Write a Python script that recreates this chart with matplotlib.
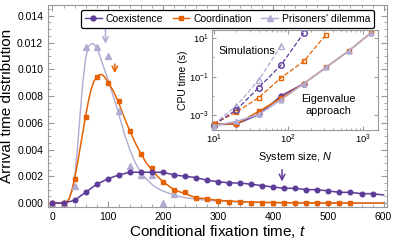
import numpy as np
import matplotlib.pyplot as plt
from matplotlib.ticker import MultipleLocator, LogLocator, NullFormatter, FixedLocator

plt.rcParams['font.family'] = ['Liberation Sans', 'DejaVu Sans']
plt.rcParams['mathtext.fontset'] = 'custom'
plt.rcParams['mathtext.rm'] = 'Liberation Sans'
plt.rcParams['mathtext.it'] = 'Liberation Sans:italic'

PURPLE = "#5e3c99"
ORANGE = "#e66101"
LAVENDER = "#b2abd2"
FRAME = "#999999"

# simulated arrival-time distributions (markers)
t_coex = np.arange(0, 600, 20)
coex_sim = [0, 0, 0.0002, 0.0008, 0.0014, 0.0018, 0.0021, 0.0023, 0.0023, 0.0023,
            0.0023, 0.0021, 0.0020, 0.0019, 0.0017, 0.0016, 0.0015, 0.0015, 0.0014, 0.0013,
            0.0012, 0.0011, 0.0011, 0.0010, 0.0010, 0.0009, 0.0008, 0.0008, 0.0007, 0.0007]
t_coord = np.arange(0, 560, 20)
coord_sim = [0, 0, 0.0018, 0.0064, 0.0094, 0.0090, 0.0076, 0.0054, 0.0037, 0.0026,
             0.0016, 0.0010, 0.0008, 0.0004, 0.0003, 0.00015, 0.0001, 0.00005, 0, 0,
             0, 0, 0, 0, 0, 0, 0, 0]
t_pd = np.arange(0, 240, 20)
pd_sim = [0, 0, 0.0013, 0.0117, 0.0117, 0.0110, 0.0069, 0.0028, 0.0021, 0.0021, 0.0000, 0.0007]

# theory curves
t_th = [0, 10, 20, 25, 30, 35, 40, 45, 50, 55, 60, 65, 70, 75, 80, 85, 90, 95, 100, 110,
        120, 130, 140, 150, 160, 170, 180, 190, 200, 220, 240, 260, 280, 300, 350, 400,
        450, 500, 600]
pd_th = [0, 0, 0, 0.00005, 0.0003, 0.0009, 0.0018, 0.0040, 0.0066, 0.0090, 0.0108, 0.0117,
         0.0119, 0.0119, 0.0116, 0.0111, 0.0105, 0.0099, 0.0093, 0.0080, 0.0067, 0.0052,
         0.0040, 0.0030, 0.0023, 0.0018, 0.0014, 0.0011, 0.0009, 0.0006, 0.0004, 0.0003,
         0.0002, 0.00015, 0.00007, 0.00003, 0.00001, 0, 0]
coord_th = [0, 0, 0, 0.00005, 0.0003, 0.0009, 0.0018, 0.0029, 0.0041, 0.0053, 0.0065,
            0.0076, 0.0085, 0.0091, 0.0094, 0.0096, 0.0096, 0.0094, 0.0091, 0.0084, 0.0075,
            0.0064, 0.0054, 0.0045, 0.0037, 0.0030, 0.0025, 0.0020, 0.0016, 0.0010, 0.0007,
            0.0004, 0.0003, 0.0002, 0.00008, 0.00003, 0.00001, 0, 0]
t_coex_th = list(t_coex) + [600]
coex_th = coex_sim + [0.0006]

# inset: CPU time vs system size (log10 of seconds)
N = [10, 20, 40, 80, 160, 320, 640, 1280]
eig_coex = [-3.5, -3.47, -2.97, -2.0, -1.37]
eig_coord = [-3.46, -3.47, -2.81, -2.12, -1.37, -0.52, 0.33, 1.27]
eig_pd = [-3.56, -3.33, -2.97, -2.2, -1.37, -0.52, 0.33, 1.27]
sim_coex = [-3.5, -2.73, -1.57, -0.39, 1.27]
sim_coord = [-3.46, -2.85, -2.09, -1.05, -0.21, 1.19]
sim_pd = [-3.46, -2.52, -1.17, 0.61]


def style_frame(ax):
    for s in ax.spines.values():
        s.set_color(FRAME)
        s.set_linewidth(0.8)
    ax.tick_params(which='both', direction='in', top=True, right=True, color=FRAME)


fig = plt.figure(figsize=(3.94, 2.43), dpi=100)
ax = fig.add_axes([0.122, 0.148, 0.860, 0.831])

ax.plot(t_th, pd_th, color=LAVENDER, lw=1.0)
ax.plot(t_th, coord_th, color=ORANGE, lw=1.1)
ax.plot(t_coex_th, coex_th, color=PURPLE, lw=1.1)
ax.plot(t_pd, pd_sim, ls='none', marker='^', ms=3.8, color=LAVENDER)
ax.plot(t_coord, coord_sim, ls='none', marker='s', ms=3.2, color=ORANGE)
ax.plot(t_coex, coex_sim, ls='none', marker='o', ms=3.3, color=PURPLE)

# legend proxies
h1, = ax.plot([], [], color=PURPLE, marker='o', ms=3.5, lw=1)
h2, = ax.plot([], [], color=ORANGE, marker='s', ms=3.5, lw=1)
h3, = ax.plot([], [], color=LAVENDER, marker='^', ms=4, lw=1)
leg = ax.legend([h1, h2, h3], ["Coexistence", "Coordination", "Prisoners' dilemma"],
                ncol=3, loc='upper center', bbox_to_anchor=(0.53, 1.0), fontsize=7.5,
                frameon=True, fancybox=True, handlelength=1.6, handletextpad=0.4,
                columnspacing=0.9, borderpad=0.35)
leg.get_frame().set_edgecolor('black')
leg.get_frame().set_linewidth(0.9)
leg.get_frame().set_alpha(1)

# arrows
ax.annotate("", xy=(96, 0.0117), xytext=(96, 0.0133),
            arrowprops=dict(arrowstyle='->', color=LAVENDER, lw=1.1))
ax.annotate("", xy=(113, 0.0095), xytext=(113, 0.0106),
            arrowprops=dict(arrowstyle='->', color=ORANGE, lw=1.1))
ax.annotate("", xy=(416, 0.0014), xytext=(416, 0.0027),
            arrowprops=dict(arrowstyle='->', color=PURPLE, lw=1.1))

ax.set_xlim(-8, 606)
ax.set_ylim(-0.0003, 0.0148)
ax.xaxis.set_major_locator(MultipleLocator(100))
ax.xaxis.set_minor_locator(MultipleLocator(20))
ax.yaxis.set_major_locator(MultipleLocator(0.002))
ax.yaxis.set_minor_locator(MultipleLocator(0.0005))
ax.yaxis.set_major_formatter(plt.FuncFormatter(lambda v, p: f"{v:.3f}"))
style_frame(ax)
ax.tick_params(which='major', length=4, labelsize=7.5, labelcolor='black')
ax.tick_params(which='minor', length=2)
ax.set_xlabel("Conditional fixation time, $t$", fontsize=11, labelpad=1)
ax.set_ylabel("Arrival time distribution", fontsize=11, labelpad=2)

# inset
ins = fig.add_axes([0.538, 0.465, 0.421, 0.412])
ins.set_xscale('log')
ins.plot(N[:len(sim_pd)], 10 ** np.array(sim_pd), ls='--', color=LAVENDER, lw=0.9,
         marker='^', mfc='none', ms=4, clip_on=False)
ins.plot(N[:len(sim_coord)], 10 ** np.array(sim_coord), ls='--', color=ORANGE, lw=0.9,
         marker='s', mfc='none', ms=3.5, clip_on=False)
ins.plot(N[:len(sim_coex)], 10 ** np.array(sim_coex), ls='--', color=PURPLE, lw=0.9,
         marker='o', mfc='none', ms=4, clip_on=False)
ins.plot(N[:len(eig_coex)], 10 ** np.array(eig_coex), color=PURPLE, lw=1.1, marker='o', ms=3.5)
ins.plot(N, 10 ** np.array(eig_coord), color=ORANGE, lw=1.1, marker='s', ms=3.5, clip_on=False)
ins.plot(N, 10 ** np.array(eig_pd), color=LAVENDER, lw=1.1, marker='^', ms=3.5, clip_on=False)
ins.set_yscale('log')
ins.set_xlim(10 ** 0.973, 10 ** 3.2)
ins.set_ylim(10 ** -3.78, 10 ** 1.43)
ins.yaxis.set_major_locator(FixedLocator([1e-3, 1e-1, 1e1]))
ins.yaxis.set_minor_locator(FixedLocator([1e-2, 1e0]))
ins.yaxis.set_minor_formatter(NullFormatter())
ins.xaxis.set_major_locator(LogLocator(base=10, numticks=5))
ins.xaxis.set_minor_locator(LogLocator(base=10, subs=np.arange(2, 10), numticks=10))
ins.xaxis.set_minor_formatter(NullFormatter())
style_frame(ins)
ins.tick_params(which='major', length=3, labelsize=6.8, pad=2)
ins.tick_params(which='minor', length=1.5)
ins.set_ylabel("CPU time (s)", fontsize=7.5, labelpad=1)
ins.set_xlabel("System size, $N$", fontsize=7.8, labelpad=3)
ins.text(0.04, 0.76, "Simulations", transform=ins.transAxes, fontsize=7.8)
ins.text(0.70, 0.16, "Eigenvalue\napproach", transform=ins.transAxes, fontsize=7.8,
         ha='center', linespacing=1.3)

fig.savefig("out.png", dpi=100)
